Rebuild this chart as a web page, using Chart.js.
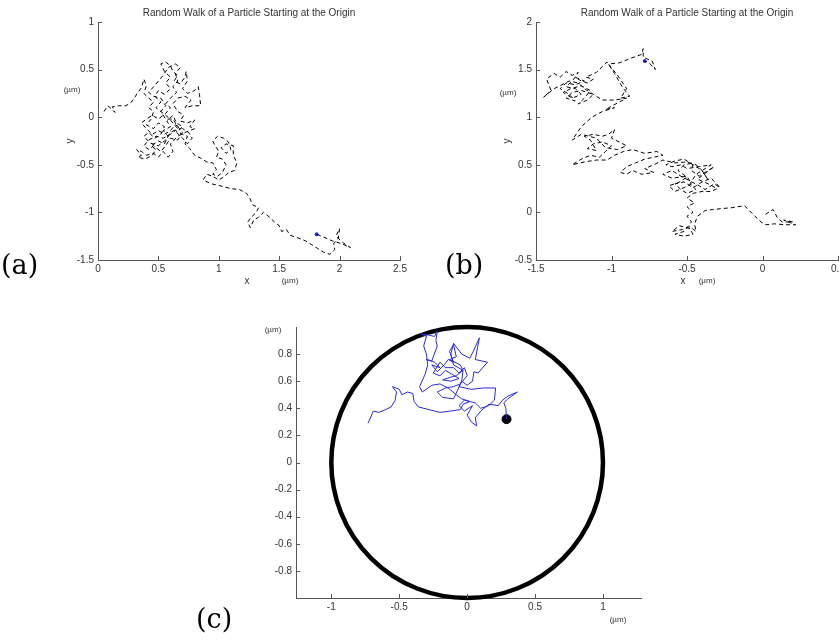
<!DOCTYPE html>
<html>
<head>
<meta charset="utf-8">
<script src="https://cdn.jsdelivr.net/npm/chart.js@4.4.0/dist/chart.umd.min.js"></script>
<style>
  html, body { margin: 0; padding: 0; background: #fff; }
  body { width: 839px; height: 644px; position: relative; overflow: hidden; font-family: "Liberation Sans", Arial, sans-serif; }
  canvas { position: absolute; }
  .lbl { position: absolute; color: #333; white-space: nowrap; transform: translate(-50%, -50%); line-height: 1; }
  .title { font-size: 10px; }
  .unit { font-size: 8px; }
  .axl { font-size: 10px; }
  .rot { transform: translate(-50%, -50%) rotate(-90deg); }
  .tag { position: absolute; font-family: "DejaVu Serif", serif; font-size: 27px; color: #000; line-height: 1; }
</style>
</head>
<body>
<canvas id="chartA" width="420" height="300" style="left:0;top:0"></canvas>
<canvas id="chartB" width="440" height="300" style="left:420px;top:0"></canvas>
<canvas id="chartC" width="430" height="330" style="left:230px;top:300px"></canvas>

<div class="lbl title" style="left:249px;top:13px">Random Walk of a Particle Starting at the Origin</div>
<div class="lbl unit" style="left:72px;top:90px">(µm)</div>
<div class="lbl axl rot" style="left:70px;top:141px">y</div>
<div class="lbl axl" style="left:247px;top:281px">x</div>
<div class="lbl unit" style="left:290px;top:281px">(µm)</div>
<div class="tag" style="left:1px;top:251px">(a)</div>

<div class="lbl title" style="left:687px;top:13px">Random Walk of a Particle Starting at the Origin</div>
<div class="lbl unit" style="left:508px;top:93px">(µm)</div>
<div class="lbl axl rot" style="left:507px;top:141px">y</div>
<div class="lbl axl" style="left:683px;top:281px">x</div>
<div class="lbl unit" style="left:707px;top:281px">(µm)</div>
<div class="tag" style="left:445px;top:251px">(b)</div>

<div class="lbl unit" style="left:273px;top:330px">(µm)</div>
<div class="lbl unit" style="left:618px;top:620px">(µm)</div>
<div class="tag" style="left:196px;top:605px">(c)</div>

<script>
// tick labels
const ticksAX = [0, 0.5, 1, 1.5, 2, 2.5];
const ticksAY = [-1.5, -1, -0.5, 0, 0.5, 1];
const ticksBX = [-1.5, -1, -0.5, 0, 0.5];
const ticksBY = [-0.5, 0, 0.5, 1, 1.5, 2];
const ticksCX = [-1, -0.5, 0, 0.5, 1];
const ticksCY = [-0.8, -0.6, -0.4, -0.2, 0, 0.2, 0.4, 0.6, 0.8];

// walk (a), x/y in µm
const walkA = [
  [0.05,0.06],[0.08,0.12],[0.11,0.09],[0.14,0.05],[0.12,0.11],[0.17,0.12],[0.23,0.12],[0.27,0.15],[0.3,0.2],[0.33,0.26],
  [0.36,0.31],[0.38,0.4],[0.4,0.33],[0.38,0.25],[0.42,0.2],[0.46,0.16],[0.42,0.1],[0.46,0.06],[0.44,-0.02],
  [0.4,-0.08],[0.46,-0.12],[0.5,-0.06],[0.55,-0.1],[0.52,-0.18],[0.47,-0.22],[0.42,-0.16],[0.38,-0.2],[0.43,-0.27],[0.5,-0.3],
  [0.56,-0.24],[0.6,-0.16],[0.66,-0.12],[0.62,-0.06],[0.58,0.0],[0.53,0.05],[0.48,0.1],[0.52,0.16],[0.47,0.22],[0.5,0.28],
  [0.55,0.24],[0.6,0.3],[0.56,0.36],[0.6,0.42],[0.55,0.48],[0.52,0.56],[0.56,0.58],[0.6,0.54],[0.62,0.48],[0.66,0.44],
  [0.63,0.38],[0.68,0.35],[0.72,0.42],[0.73,0.48],[0.74,0.38],[0.7,0.3],[0.74,0.25],[0.8,0.28],[0.83,0.32],[0.84,0.24],
  [0.85,0.12],[0.78,0.12],[0.72,0.1],[0.77,0.18],[0.72,0.22],[0.66,0.2],[0.62,0.14],[0.66,0.06],[0.71,0.02],[0.68,-0.04],
  [0.74,-0.06],[0.8,-0.03],[0.76,-0.1],[0.8,-0.12],[0.72,-0.16],[0.66,-0.2],[0.6,-0.28],[0.62,-0.36],[0.58,-0.42],[0.54,-0.36],
  [0.5,-0.42],[0.46,-0.38],[0.4,-0.4],[0.36,-0.36],[0.32,-0.34],[0.36,-0.4],[0.33,-0.42],[0.39,-0.44],[0.45,-0.4],[0.48,-0.34],
  [0.44,-0.3],[0.5,-0.25],[0.55,-0.28],[0.58,-0.2],[0.54,-0.14],[0.6,-0.1],[0.57,-0.04],[0.62,0.02],[0.65,-0.06],[0.7,-0.1],
  [0.65,-0.16],[0.7,-0.22],[0.74,-0.28],[0.78,-0.22],[0.75,-0.16],[0.7,-0.12],[0.64,-0.08],[0.6,-0.14],[0.55,-0.18],[0.5,-0.14],
  [0.45,-0.18],[0.4,-0.12],[0.36,-0.06],[0.4,-0.02],[0.45,0.02],[0.5,-0.02],[0.56,0.04],[0.6,0.1],[0.56,0.14],[0.6,0.2],
  [0.65,0.26],[0.62,0.32],[0.66,0.38],[0.64,0.46],[0.68,0.52],[0.64,0.56],[0.58,0.52],[0.54,0.44],[0.5,0.38],[0.46,0.32],
  [0.42,0.26],[0.46,0.22],[0.52,0.2],[0.56,0.12],[0.52,0.06],[0.56,-0.02],[0.62,-0.02],[0.66,-0.1],[0.7,-0.16],[0.66,-0.24],
  [0.6,-0.22],[0.56,-0.3],[0.52,-0.36],[0.46,-0.3],[0.42,-0.34],[0.38,-0.3],[0.42,-0.24],[0.48,-0.2],[0.54,-0.22],[0.6,-0.18],
  [0.64,-0.14],[0.7,-0.18],[0.74,-0.2],[0.72,-0.28],[0.76,-0.33],[0.8,-0.4],[0.85,-0.43],[0.9,-0.47],
  [0.95,-0.48],[0.98,-0.55],[0.95,-0.6],[0.99,-0.62],[1.03,-0.58],[1.06,-0.5],[1.03,-0.44],[0.98,-0.42],[1.0,-0.36],[0.97,-0.3],
  [0.95,-0.25],[0.99,-0.2],[1.04,-0.22],[1.08,-0.26],[1.1,-0.34],[1.06,-0.38],[1.02,-0.32],[1.06,-0.28],[1.12,-0.3],[1.12,-0.4],
  [1.15,-0.48],[1.13,-0.56],[1.08,-0.58],[1.05,-0.62],[1.0,-0.66],[0.95,-0.62],[0.9,-0.6],[0.87,-0.66],[0.94,-0.7],[1.01,-0.72],
  [1.1,-0.75],[1.17,-0.76],[1.23,-0.8],[1.26,-0.86],[1.28,-0.92],[1.33,-0.95],[1.31,-1.0],[1.27,-1.05],[1.24,-1.1],[1.26,-1.16],
  [1.29,-1.08],[1.33,-1.05],[1.37,-1.0],[1.42,-1.05],[1.46,-1.1],[1.5,-1.14],[1.52,-1.2],[1.56,-1.18],[1.59,-1.24],[1.66,-1.27],
  [1.72,-1.3],[1.77,-1.34],[1.82,-1.38],[1.87,-1.42],[1.92,-1.44],[1.96,-1.39],[1.95,-1.33],[1.99,-1.27],[2.0,-1.17],[1.97,-1.25],
  [2.03,-1.32],[2.09,-1.37],[2.02,-1.33],[1.94,-1.3],[1.87,-1.26],[1.81,-1.23]
];
const endA = [1.81, -1.23];

// walk (b)
const walkB = [
  [0.02,-0.02],[0.07,0.03],[0.1,-0.06],[0.13,-0.1],[0.2,-0.1],[0.14,-0.08],[0.22,-0.13],[0.15,-0.13],[0.08,-0.12],[0.02,-0.13],
  [-0.01,-0.1],[-0.05,-0.04],[-0.1,0.04],[-0.12,0.07],[-0.2,0.05],[-0.27,0.04],[-0.33,0.03],[-0.38,0.02],[-0.43,-0.04],[-0.45,-0.12],
  [-0.44,-0.2],[-0.48,-0.15],[-0.53,-0.18],[-0.6,-0.2],[-0.55,-0.14],[-0.48,-0.17],[-0.46,-0.23],[-0.52,-0.25],[-0.58,-0.23],[-0.52,-0.2],
  [-0.47,-0.1],[-0.5,-0.04],[-0.46,0.0],[-0.5,0.06],[-0.45,0.1],[-0.5,0.15],[-0.46,0.2],[-0.4,0.22],[-0.34,0.22],[-0.3,0.25],
  [-0.36,0.3],[-0.43,0.35],[-0.38,0.41],[-0.32,0.48],[-0.36,0.44],[-0.42,0.38],[-0.47,0.44],[-0.46,0.52],[-0.52,0.5],[-0.56,0.44],
  [-0.5,0.37],[-0.56,0.31],[-0.62,0.28],[-0.58,0.22],[-0.52,0.26],[-0.47,0.3],[-0.5,0.38],[-0.6,0.36],[-0.66,0.4],[-0.6,0.44],
  [-0.54,0.38],[-0.48,0.33],[-0.42,0.28],[-0.38,0.24],[-0.32,0.3],[-0.28,0.26],[-0.34,0.36],[-0.4,0.32],[-0.46,0.26],[-0.52,0.32],
  [-0.58,0.3],[-0.54,0.24],[-0.5,0.2],[-0.44,0.24],[-0.48,0.3],[-0.44,0.4],[-0.38,0.46],[-0.34,0.5],[-0.42,0.48],[-0.5,0.46],
  [-0.54,0.5],[-0.6,0.48],[-0.64,0.5],[-0.58,0.54],[-0.52,0.56],[-0.46,0.5],[-0.4,0.44],[-0.36,0.34],
  [-0.4,0.44],[-0.44,0.5],[-0.5,0.53],[-0.58,0.52],[-0.66,0.55],[-0.72,0.5],
  [-0.78,0.46],[-0.72,0.42],[-0.8,0.4],[-0.86,0.44],[-0.9,0.4],[-0.94,0.42],[-0.9,0.48],[-0.84,0.52],[-0.78,0.56],[-0.72,0.58],
  [-0.66,0.6],[-0.7,0.64],[-0.78,0.62],[-0.86,0.66],[-0.92,0.64],[-0.98,0.6],[-1.03,0.55],[-1.1,0.55],[-1.18,0.53],[-1.26,0.5],
  [-1.2,0.56],[-1.14,0.6],[-1.08,0.58],[-1.04,0.64],[-1.0,0.7],[-1.06,0.74],[-1.12,0.72],[-1.16,0.67],[-1.1,0.65],[-1.14,0.76],
  [-1.18,0.8],[-1.12,0.82],[-1.06,0.8],[-1.02,0.82],[-0.98,0.87],[-1.0,0.78],[-0.95,0.74],[-0.9,0.7],[-0.96,0.66],[-1.04,0.68],
  [-1.1,0.78],[-1.2,0.82],[-1.26,0.76],[-1.2,0.9],[-1.13,1.0],[-1.06,1.06],[-0.98,1.1],[-1.04,1.08],[-0.96,1.15],[-0.9,1.2],
  [-0.98,1.18],[-1.06,1.18],[-1.12,1.24],[-1.18,1.3],[-1.22,1.36],[-1.28,1.38],[-1.33,1.34],[-1.38,1.3],[-1.45,1.21],[-1.4,1.28],
  [-1.43,1.4],[-1.38,1.46],[-1.34,1.42],[-1.3,1.48],[-1.26,1.44],[-1.22,1.47],[-1.25,1.4],[-1.3,1.32],[-1.24,1.3],[-1.2,1.24],
  [-1.26,1.2],[-1.32,1.26],[-1.27,1.3],[-1.2,1.33],[-1.14,1.28],[-1.18,1.2],[-1.22,1.14],[-1.16,1.18],[-1.12,1.24],[-1.2,1.28],
  [-1.26,1.26],[-1.3,1.2],[-1.24,1.17],[-1.28,1.24],[-1.34,1.3],[-1.3,1.36],[-1.24,1.34],[-1.18,1.38],[-1.24,1.42],[-1.2,1.38],
  [-1.16,1.36],[-1.12,1.4],[-1.17,1.42],[-1.1,1.47],[-1.03,1.58],[-0.98,1.46],[-0.93,1.32],[-0.88,1.22],[-0.94,1.2],[-0.9,1.3],
  [-0.96,1.44],[-1.02,1.56],[-0.95,1.57],[-0.87,1.62],[-0.8,1.66],[-0.79,1.72],[-0.79,1.63],[-0.73,1.59],[-0.71,1.5],[-0.75,1.57],
  [-0.78,1.59]
];
const endB = [-0.78, 1.59];

// walk (c) inside a unit circle
const walkC = [
  [-0.73,0.29],[-0.69,0.38],[-0.65,0.37],[-0.6,0.39],[-0.56,0.41],[-0.53,0.46],[-0.52,0.52],[-0.55,0.56],[-0.5,0.54],[-0.48,0.5],
  [-0.44,0.52],[-0.4,0.51],[-0.39,0.45],[-0.36,0.41],[-0.28,0.39],[-0.2,0.37],[-0.12,0.38],[-0.05,0.39],[-0.03,0.43],[0.02,0.45],
  [-0.04,0.47],[-0.08,0.5],[-0.14,0.55],[-0.2,0.58],[-0.26,0.57],[-0.33,0.52],[-0.35,0.56],[-0.31,0.65],[-0.29,0.72],[-0.3,0.8],
  [-0.32,0.86],[-0.3,0.93],[-0.34,0.95],[-0.28,0.94],[-0.24,0.93],[-0.22,0.97],[-0.23,0.9],[-0.22,0.86],[-0.26,0.75],[-0.3,0.76],
  [-0.24,0.74],[-0.2,0.7],[-0.26,0.72],[-0.22,0.67],[-0.17,0.72],[-0.14,0.76],[-0.1,0.74],[-0.13,0.82],[-0.1,0.87],[-0.08,0.78],
  [-0.13,0.76],[-0.05,0.72],[-0.03,0.68],[-0.08,0.64],[-0.12,0.63],[-0.18,0.61],[-0.12,0.6],[-0.06,0.62],[-0.16,0.68],[-0.2,0.64],
  [-0.25,0.66],[-0.2,0.74],[-0.16,0.7],[-0.1,0.7],[-0.06,0.66],[-0.02,0.7],[0.0,0.64],[-0.05,0.58],[-0.1,0.56],[-0.16,0.55],
  [-0.22,0.52],[-0.18,0.48],[-0.1,0.47],[-0.04,0.6],[0.0,0.57],
  [0.04,0.6],[0.05,0.67],[0.08,0.66],[0.15,0.74],[0.06,0.76],[0.09,0.92],[0.05,0.83],[0.02,0.77],[-0.04,0.8],[-0.1,0.88],
  [-0.12,0.8],[-0.1,0.72],[-0.03,0.68],[-0.04,0.6],[-0.06,0.56],[0.03,0.54],[0.12,0.55],[0.21,0.55],[0.2,0.46],[0.16,0.42],
  [0.1,0.4],[0.06,0.44],[-0.02,0.46],[-0.06,0.42],[-0.02,0.38],[0.04,0.42],[0.0,0.35],[0.03,0.3],[0.07,0.27],[0.06,0.33],
  [0.1,0.38],[0.16,0.43],[0.23,0.42],[0.26,0.46],[0.3,0.49],[0.37,0.52],[0.3,0.47],[0.27,0.44],[0.285,0.4],[0.29,0.32]
];
const particleC = [0.29, 0.32];
const boundaryRadius = 1;

const toPts = arr => arr.map(([x, y]) => ({ x, y }));

// MATLAB style: ticks pointing into the plot
const inwardTicks = {
  id: 'inwardTicks',
  afterDatasetsDraw(chart) {
    const ctx = chart.ctx, a = chart.chartArea;
    const sx = chart.scales.x, sy = chart.scales.y;
    ctx.save();
    ctx.strokeStyle = '#555';
    ctx.lineWidth = 1;
    ctx.beginPath();
    sx.ticks.forEach(t => {
      const p = Math.round(sx.getPixelForValue(t.value)) + 0.5;
      ctx.moveTo(p, a.bottom);
      ctx.lineTo(p, a.bottom - 4);
    });
    sy.ticks.forEach(t => {
      const p = Math.round(sy.getPixelForValue(t.value)) + 0.5;
      ctx.moveTo(a.left, p);
      ctx.lineTo(a.left + 4, p);
    });
    ctx.stroke();
    ctx.restore();
  }
};

const boundary = {
  id: 'boundary',
  beforeDatasetsDraw(chart) {
    const ctx = chart.ctx, sx = chart.scales.x, sy = chart.scales.y;
    const cx = sx.getPixelForValue(0), cy = sy.getPixelForValue(0);
    const rx = sx.getPixelForValue(boundaryRadius) - cx;
    const ry = cy - sy.getPixelForValue(boundaryRadius);
    ctx.save();
    ctx.strokeStyle = '#000';
    ctx.lineWidth = 4.5;
    ctx.beginPath();
    ctx.ellipse(cx, cy, rx, ry, 0, 0, Math.PI * 2);
    ctx.stroke();
    ctx.restore();
  }
};

function axis(min, max, ticks, size, horizontal) {
  return {
    type: 'linear',
    min: min,
    max: max,
    grid: { display: false, drawTicks: false },
    border: { display: true, color: '#555', width: 1 },
    afterBuildTicks: s => { s.ticks = ticks.map(v => ({ value: v })); },
    afterFit: s => { if (horizontal) s.height = size; else s.width = size; },
    ticks: {
      color: '#333',
      font: { family: 'Liberation Sans', size: 10 },
      padding: horizontal ? 3 : 4,
      maxRotation: 0,
      autoSkip: false,
      callback: v => String(v)
    }
  };
}

function makeChart(id, datasets, xs, ys, padding, plugins) {
  new Chart(document.getElementById(id), {
    type: 'scatter',
    data: { datasets: datasets },
    options: {
      responsive: false,
      animation: false,
      devicePixelRatio: 1,
      layout: { padding: padding },
      plugins: { legend: { display: false }, tooltip: { enabled: false } },
      scales: { x: xs, y: ys }
    },
    plugins: plugins
  });
}

function walkSet(walk, color, dash) {
  return {
    data: toPts(walk),
    showLine: true,
    borderColor: color,
    borderWidth: 1,
    borderDash: dash,
    pointRadius: 0,
    tension: 0
  };
}

function dotSet(pt, color, r) {
  return {
    data: toPts([pt]),
    pointRadius: r,
    pointBackgroundColor: color,
    pointBorderColor: color,
    pointBorderWidth: 1,
    backgroundColor: color,
    borderColor: color
  };
}

makeChart('chartA',
  [walkSet(walkA, '#000', [4, 3]), dotSet(endA, '#1a1ad0', 1.5)],
  axis(0, 2.5, ticksAX, 40, true),
  axis(-1.5, 1, ticksAY, 98, false),
  { top: 22, right: 20, left: 0, bottom: 0 },
  [inwardTicks]);

makeChart('chartB',
  [walkSet(walkB, '#000', [4, 3]), dotSet(endB, '#1a1ad0', 1.5)],
  axis(-1.5, 0.5, ticksBX, 40, true),
  axis(-0.5, 2, ticksBY, 116, false),
  { top: 22, right: 22, left: 0, bottom: 0 },
  [inwardTicks]);

makeChart('chartC',
  [walkSet(walkC, '#2a2ad8', []), dotSet(particleC, '#000', 4.5)],
  axis(-1.26, 1.28, ticksCX, 32, true),
  axis(-1, 1, ticksCY, 66, false),
  { top: 27, right: 19, left: 0, bottom: 0 },
  [boundary, inwardTicks]);
</script>
</body>
</html>
